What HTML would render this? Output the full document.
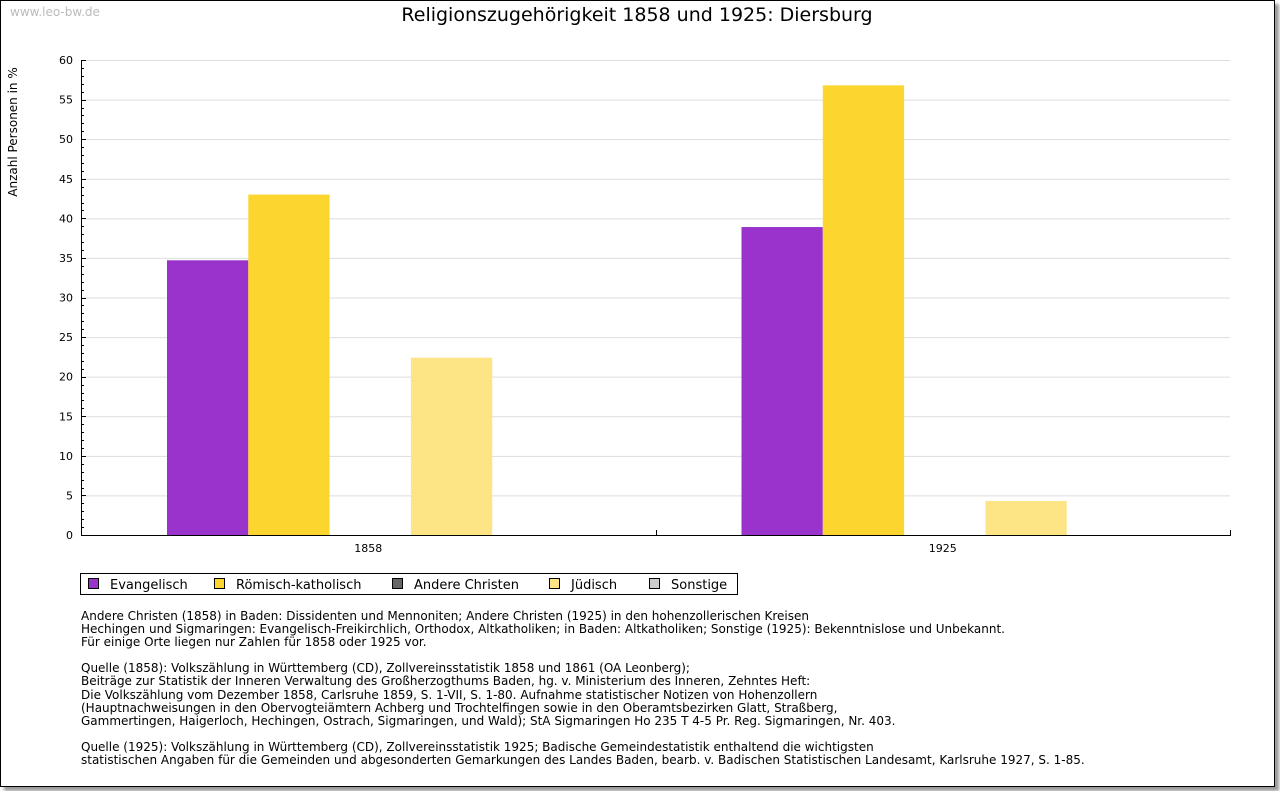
<!DOCTYPE html>
<html><head><meta charset="utf-8"><style>
body{margin:0;background:#fff;font-family:"DejaVu Sans","Liberation Sans",sans-serif;}
#frame{position:absolute;left:0;top:0;width:1273px;height:785px;border:1px solid #000;background:#fff;box-shadow:4px 4px 3px #999;}
svg text{font-family:"DejaVu Sans","Liberation Sans",sans-serif;}
#notes{position:absolute;left:80px;top:609px;font-size:12px;line-height:13.1px;color:#000;white-space:pre;}
</style></head><body>
<div id="frame">
<svg id="chart" width="1280" height="791" style="position:absolute;left:-1px;top:-1px">
<text x="10" y="16" font-size="12" fill="#bbb">www.leo-bw.de</text>
<text x="637" y="21" font-size="19" text-anchor="middle">Religionszugehörigkeit 1858 und 1925: Diersburg</text>
<text transform="translate(17,132) rotate(-90)" font-size="12" text-anchor="middle">Anzahl Personen in %</text>
<g id="grid"></g><g id="bars"></g><g id="axes"></g>
<g>
<rect x="80.5" y="573.5" width="657" height="21" fill="#fff" stroke="#000"/>
<g id="legend"></g></g>
</svg>
<div id="notes">Andere Christen (1858) in Baden: Dissidenten und Mennoniten; Andere Christen (1925) in den hohenzollerischen Kreisen
Hechingen und Sigmaringen: Evangelisch-Freikirchlich, Orthodox, Altkatholiken; in Baden: Altkatholiken; Sonstige (1925): Bekenntnislose und Unbekannt.
Für einige Orte liegen nur Zahlen für 1858 oder 1925 vor.

Quelle (1858): Volkszählung in Württemberg (CD), Zollvereinsstatistik 1858 und 1861 (OA Leonberg);
Beiträge zur Statistik der Inneren Verwaltung des Großherzogthums Baden, hg. v. Ministerium des Inneren, Zehntes Heft:
Die Volkszählung vom Dezember 1858, Carlsruhe 1859, S. 1-VII, S. 1-80. Aufnahme statistischer Notizen von Hohenzollern
(Hauptnachweisungen in den Obervogteiämtern Achberg und Trochtelfingen sowie in den Oberamtsbezirken Glatt, Straßberg,
Gammertingen, Haigerloch, Hechingen, Ostrach, Sigmaringen, und Wald); StA Sigmaringen Ho 235 T 4-5 Pr. Reg. Sigmaringen, Nr. 403.

Quelle (1925): Volkszählung in Württemberg (CD), Zollvereinsstatistik 1925; Badische Gemeindestatistik enthaltend die wichtigsten
statistischen Angaben für die Gemeinden und abgesonderten Gemarkungen des Landes Baden, bearb. v. Badischen Statistischen Landesamt, Karlsruhe 1927, S. 1-85.</div>
</div>
<script>
const categories=["1858","1925"];
const seriesNames=["Evangelisch","Römisch-katholisch","Andere Christen","Jüdisch","Sonstige"];
const seriesColors=["#9933cc","#fdd52f","#666666","#fde585","#cccccc"];
const evangelisch=[34.7,38.9];
const katholisch=[43.0,56.8];
const andere=[0,0];
const juedisch=[22.4,4.3];
const sonstige=[0,0];
const yTicks=[0,5,10,15,20,25,30,35,40,45,50,55,60];
const series=[evangelisch,katholisch,andere,juedisch,sonstige];
const NS="http://www.w3.org/2000/svg";
const X0=81,X1=1230,Y0=535,Y1=60,YMAX=60;
const y=v=>Y0-(v/YMAX)*(Y0-Y1);
const gw=(X1-X0)/categories.length, bw=81.3, off=86;
function mk(tag,at,parent){const e=document.createElementNS(NS,tag);for(const k in at)e.setAttribute(k,at[k]);parent.appendChild(e);return e;}
const grid=document.getElementById('grid'),bars=document.getElementById('bars'),axes=document.getElementById('axes'),leg=document.getElementById('legend');
yTicks.forEach(t=>{
 if(t>0){const l=mk('line',{x1:X0,x2:X1,y1:y(t)+.5,y2:y(t)+.5,stroke:'#ddd'},grid);
 
 }
 const tx=mk('text',{x:X0-8,y:y(t)+4,'font-size':11,'text-anchor':'end'},axes);tx.textContent=t;
 
 
});
for(let v=0;v<=YMAX;v++){mk('line',{x1:X0,x2:X0+(v%5?3:5),y1:Math.round(y(v))+.5,y2:Math.round(y(v))+.5,stroke:'#000'},axes);}
mk('line',{x1:X0+.5,x2:X0+.5,y1:Y1,y2:Y0,stroke:'#000'},axes);
mk('line',{x1:X0,x2:X1+1,y1:Y0+.5,y2:Y0+.5,stroke:'#000'},axes);
categories.forEach((c,i)=>{
 const gx=X0+i*gw;
 mk('line',{x1:Math.round(gx+gw)+.5,x2:Math.round(gx+gw)+.5,y1:Y0-5,y2:Y0,stroke:'#000'},axes);
 const tx=mk('text',{x:gx+gw/2,y:Y0+17,'font-size':11,'text-anchor':'middle'},axes);tx.textContent=c;
 
 
 series.forEach((s,j)=>{
  if(s[i]<=0)return;
  const r=mk('rect',{x:gx+off+j*bw,y:y(s[i]),width:bw,height:Y0-y(s[i]),fill:seriesColors[j]},bars);
  
  
 });
});
const lx=[88,214,392,549,649];
seriesNames.forEach((n,j)=>{
 const g=mk('g',{},leg);
 
 
 mk('rect',{x:lx[j]+.5,y:578.5,width:10,height:10,fill:seriesColors[j],stroke:'#000'},g);
 const t=mk('text',{x:lx[j]+22,y:589,'font-size':13},g);t.textContent=n;
});
</script>
</body></html>
